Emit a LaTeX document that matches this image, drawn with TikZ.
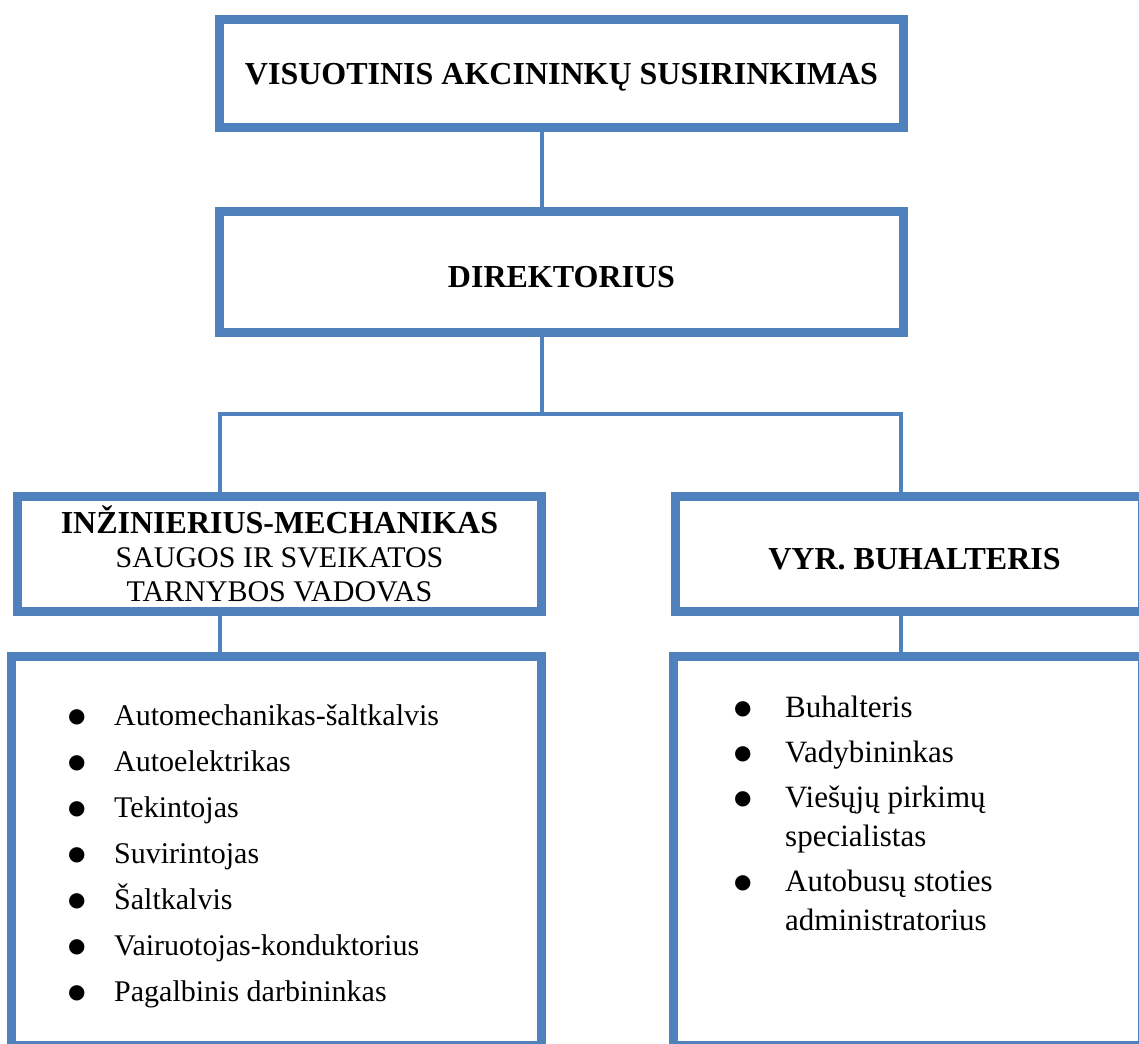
\documentclass[tikz,border=0pt]{standalone}
\usepackage{fontspec}
\setmainfont{Liberation Serif}
\newfontfamily\bulfont{DejaVu Sans}
\definecolor{obl}{HTML}{4F81BD}
\newcommand{\bigbul}{\raisebox{3pt}{\bulfont\fontsize{20}{20}\selectfont ●}}
\begin{document}
\begin{tikzpicture}[x=1pt,y=-1pt,
  box/.style={draw=obl, line width=9pt, rectangle, inner sep=0pt, text=black},
  conn/.style={draw=obl, line width=4pt},
  head/.style={font=\fontsize{32}{38}\selectfont\bfseries, text depth=0pt},
  litem/.style={anchor=base west, inner sep=0pt, font=\fontsize{30}{36}\selectfont},
  ritem/.style={anchor=base west, inner sep=0pt, font=\fontsize{31}{39.5}\selectfont}]
\useasboundingbox (0,0) rectangle (1139,1043);
\clip (0,0) rectangle (1139,1043);

% boxes
\node[box, head, text height=23pt, minimum width=684pt, minimum height=108pt] (top) at (561.5,73.5)
  {VISUOTINIS AKCININKŲ SUSIRINKIMAS};
\node[box, head, text height=30pt, minimum width=684pt, minimum height=121pt] (dir) at (561.5,272)
  {DIREKTORIUS};
\node[box, align=center, font=\fontsize{30}{34}\selectfont, minimum width=524pt, minimum height=115pt] (inz) at (279.5,554)
  {{\fontsize{32}{34}\selectfont\bfseries INŽINIERIUS-MECHANIKAS}\\SAUGOS IR SVEIKATOS\\TARNYBOS VADOVAS};
\node[box, head, text height=30pt, minimum width=467pt, minimum height=115pt] (vyr) at (909,554)
  {\hspace*{11pt}VYR. BUHALTERIS};
\node[box, minimum width=530pt, minimum height=389pt] (llist) at (276.5,851) {};
\node[box, minimum width=469pt, minimum height=389pt] (rlist) at (908,851) {};

% connector points
\coordinate (spine) at (542,414);
\coordinate (jl) at (220,414);
\coordinate (jr) at (901,414);

\draw[conn] (top.south -| spine) -- (dir.north -| spine);
\draw[conn] (dir.south -| spine) -- (spine);
\draw[conn] (inz.north -| jl) -- (jl) -- (jr) -- (vyr.north -| jr);
\draw[conn] (inz.south -| jl) -- (llist.north -| jl);
\draw[conn] (vyr.south -| jr) -- (rlist.north -| jr);

% left list
\node[litem] (l1) at (68,725) {\makebox[46pt][l]{\bigbul}Automechanikas-šaltkalvis};
\node[litem] (l2) at (68,771) {\makebox[46pt][l]{\bigbul}Autoelektrikas};
\node[litem] (l3) at (68,817) {\makebox[46pt][l]{\bigbul}Tekintojas};
\node[litem] (l4) at (68,863) {\makebox[46pt][l]{\bigbul}Suvirintojas};
\node[litem] (l5) at (68,909) {\makebox[46pt][l]{\bigbul}Šaltkalvis};
\node[litem] (l6) at (68,955) {\makebox[46pt][l]{\bigbul}Vairuotojas-konduktorius};
\node[litem] (l7) at (68,1001) {\makebox[46pt][l]{\bigbul}Pagalbinis darbininkas};

% right list
\node[ritem] (r1) at (734,717) {\makebox[51pt][l]{\bigbul}Buhalteris};
\node[ritem] (r2) at (734,762) {\makebox[51pt][l]{\bigbul}Vadybininkas};
\node[ritem] (r3) at (734,807) {\makebox[51pt][l]{\bigbul}\parbox[t]{300pt}{Viešųjų pirkimų\\specialistas}};
\node[ritem] (r4) at (734,891) {\makebox[51pt][l]{\bigbul}\parbox[t]{300pt}{Autobusų stoties\\administratorius}};
\end{tikzpicture}
\end{document}
